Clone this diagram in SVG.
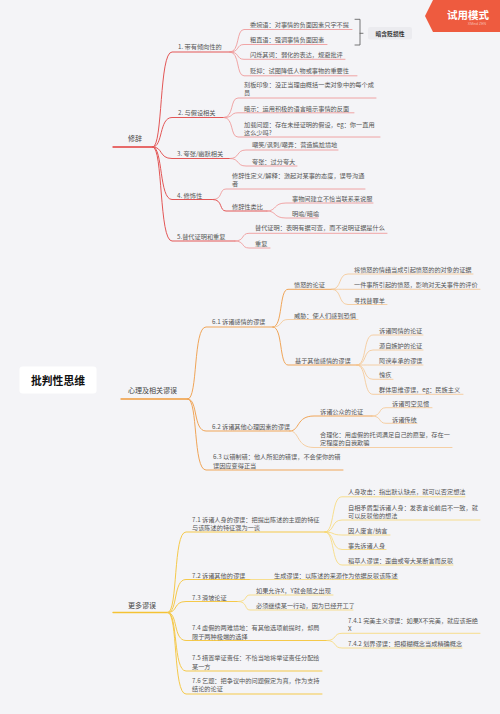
<svg xmlns="http://www.w3.org/2000/svg" width="500" height="714" viewBox="0 0 500 714">
<style>
.t{font-family:"Noto Sans CJK SC","Noto Sans",sans-serif;font-size:6.2px;fill:#555;dominant-baseline:central}
.m{font-size:7px;fill:#444}
.c{font-family:"Noto Sans CJK SC","Noto Sans",sans-serif;font-size:10.8px;font-weight:bold;fill:#111;text-anchor:middle;dominant-baseline:central}
path,line{fill:none;stroke-linecap:round}
.r0{stroke:#e23d3d;stroke-width:1.4}
.r1{stroke:#e35656;stroke-width:1}
.r2{stroke:#ef9090;stroke-width:0.8}
.o0{stroke:#ef9a3c;stroke-width:1.4}
.o1{stroke:#f0a558;stroke-width:1}
.o2{stroke:#f5c58f;stroke-width:0.8}
.y0{stroke:#f4c234;stroke-width:1.4}
.y1{stroke:#f5c94a;stroke-width:1}
.y2{stroke:#f7d874;stroke-width:0.8}
</style>
<rect x="0" y="0" width="500" height="714" fill="#f4f4f7"/>

<g id="connectors">
  <!-- main branches -->
  <path d="M59.5,367 C59.5,205 84,146.2 113,146.2 L113,147.8 C87,147.8 64.5,210 64.5,367 Z" fill="#e23d3d" stroke="none"/>
  <path d="M59.5,394 C59.5,560 86,611.8 113,611.8 L113,613.2 C83,613.2 64.5,560 64.5,394 Z" fill="#f4c234" stroke="none"/>
  <path d="M96,389.5 C105,390.5 108,398.3 122,398.3 L122,399.7 C106,399.7 102,395 96,394 Z" fill="#ef9a3c" stroke="none"/>
  <line class="r0" x1="113" y1="147" x2="153" y2="147"/>
  <line class="o0" x1="121" y1="399" x2="188" y2="399"/>
  <line class="y0" x1="113" y1="612.5" x2="168" y2="612.5"/>

  <!-- 修辞 -->
  <path class="r1" d="M153,147 C163,147 159,52 172,52 H230"/>
  <path class="r1" d="M153,147 C163,147 159,117.5 172,117.5 H224"/>
  <path class="r1" d="M153,147 C163,147 159,158.5 172,158.5 H230"/>
  <path class="r1" d="M153,147 C163,147 159,199.5 172,199.5 H213"/>
  <path class="r1" d="M153,147 C163,147 159,241 172,241 H235"/>
  <path class="r2" d="M230,52 C240,52 236,29.5 244,29.5 H352"/>
  <path class="r2" d="M230,52 C240,52 236,44.5 244,44.5 H327"/>
  <path class="r2" d="M230,52 C240,52 236,59.3 244,59.3 H345"/>
  <path class="r2" d="M230,52 C240,52 236,75.8 244,75.8 H357"/>
  <path class="r2" d="M224,117.5 C234,117.5 230,98 238,98 H376"/>
  <path class="r2" d="M224,117.5 C234,117.5 230,112.8 238,112.8 H354"/>
  <path class="r2" d="M224,117.5 C234,117.5 230,137 238,137 H380"/>
  <path class="r2" d="M230,158.5 C240,158.5 236,150 246,150 H338"/>
  <path class="r2" d="M230,158.5 C240,158.5 236,166 246,166 H297"/>
  <path class="r2" d="M213,199.5 C223,199.5 219,189 226,189 H365"/>
  <path class="r1" d="M213,199.5 C223,199.5 219,211 226,211 H267"/>
  <path class="r2" d="M267,211 C277,211 273,203 286,203 H373"/>
  <path class="r2" d="M267,211 C277,211 273,218 286,218 H318"/>
  <path class="r2" d="M235,241 C245,241 241,233.3 249,233.3 H387"/>
  <path class="r2" d="M235,241 C245,241 241,248 249,248 H270"/>

  <!-- 心理及相关谬误 -->
  <path class="o1" d="M188,399 C198,399 193,327 206,327 H273"/>
  <path class="o1" d="M188,399 C198,399 193,431 206,431 H290"/>
  <path class="o1" d="M188,399 C198,399 193,470 206,470 H343"/>
  <path class="o1" d="M273,327 C283,327 279,289.3 288,289.3 H332"/>
  <path class="o2" d="M273,327 C283,327 279,319.5 288,319.5 H358"/>
  <path class="o1" d="M273,327 C283,327 279,365 288,365 H357"/>
  <path class="o2" d="M332,289.3 C342,289.3 338,274 348,274 H473"/>
  <path class="o2" d="M332,289.3 C342,289.3 338,289.3 348,289.3 H480"/>
  <path class="o2" d="M332,289.3 C342,289.3 338,304.5 348,304.5 H387"/>
  <path class="o2" d="M357,365 C367,365 363,335 373,335 H423"/>
  <path class="o2" d="M357,365 C367,365 363,350 373,350 H423"/>
  <path class="o2" d="M357,365 C367,365 363,365 373,365 H423"/>
  <path class="o2" d="M357,365 C367,365 363,379.3 373,379.3 H393"/>
  <path class="o2" d="M357,365 C367,365 363,394.3 373,394.3 H463"/>
  <path class="o1" d="M290,431 C300,431 296,416 314,416 H372"/>
  <path class="o2" d="M290,431 C300,431 296,447.5 314,447.5 H452"/>
  <path class="o2" d="M372,416 C382,416 378,407.7 386,407.7 H432"/>
  <path class="o2" d="M372,416 C382,416 378,423.3 386,423.3 H417"/>

  <!-- 更多谬误 -->
  <path class="y1" d="M168,612.5 C178,612.5 173,532 186,532 H325"/>
  <path class="y1" d="M168,612.5 C178,612.5 173,579.5 186,579.5 H250"/>
  <path class="y1" d="M168,612.5 C178,612.5 173,601.5 186,601.5 H238"/>
  <path class="y1" d="M168,612.5 C178,612.5 173,640.5 186,640.5 H327"/>
  <path class="y1" d="M168,612.5 C178,612.5 173,671 186,671 H322"/>
  <path class="y1" d="M168,612.5 C178,612.5 173,694 186,694 H322"/>
  <path class="y2" d="M325,532 C335,532 331,496.8 342,496.8 H465"/>
  <path class="y2" d="M325,532 C335,532 331,520 342,520 H480"/>
  <path class="y2" d="M325,532 C335,532 331,535 342,535 H390"/>
  <path class="y2" d="M325,532 C335,532 331,549.5 342,549.5 H386"/>
  <path class="y2" d="M325,532 C335,532 331,565 342,565 H453"/>
  <path class="y2" d="M250,579.5 H398"/>
  <path class="y2" d="M238,601.5 C248,601.5 244,595 250,595 H333"/>
  <path class="y2" d="M238,601.5 C248,601.5 244,610 250,610 H353"/>
  <path class="y2" d="M327,640.5 C337,640.5 333,633.3 342,633.3 H480"/>
  <path class="y2" d="M327,640.5 C337,640.5 333,648 342,648 H462"/>

  <!-- bracket -->
  <path d="M355,19.3 H360 V45 H355 M360,33.3 H363" stroke="#555" stroke-width="0.8"/>
</g>

<g id="badge">
  <polygon points="433,0 500,0 500,32 433,32 425,16" fill="#ee5b3f"/>
  <text x="468" y="14" font-family="Noto Sans CJK SC, sans-serif" font-size="10.5" font-weight="bold" fill="#fff" text-anchor="middle" dominant-baseline="central">试用模式</text>
  <text x="477" y="23.5" font-family="Liberation Sans, sans-serif" font-size="3.6" fill="#f9bcae" text-anchor="middle" dominant-baseline="central">XMind ZEN</text>
</g>

<g id="root">
  <rect x="19.5" y="366.5" width="77" height="27" rx="3" fill="#ffffff"/>
  <text class="c" x="58" y="380">批判性思维</text>
</g>

<g id="n-xiuci"><text class="t m" x="128" y="138">修辞</text></g>
<g id="n-xinli"><text class="t m" x="128" y="390">心理及相关谬误</text></g>
<g id="n-gengduo"><text class="t m" x="128" y="605">更多谬误</text></g>

<g id="n1"><text class="t" x="178" y="46.5">1. 带有倾向性的</text></g>
<g id="n1a"><text class="t" x="250" y="24.3">委婉语：对事情的负面因素只字不提</text></g>
<g id="n1b"><text class="t" x="250" y="39.3">粗直语：强调事情负面因素</text></g>
<g id="n1c"><text class="t" x="250" y="54">闪烁其词：弱化的表达，规避批评</text></g>
<g id="n1d"><text class="t" x="250" y="70.7">贬抑：试图降低人物或事物的重要性</text></g>
<g id="n1-summary">
  <rect x="368" y="27" width="44" height="12.6" rx="2" fill="#ebebef"/>
  <text class="t" x="390" y="33.3" text-anchor="middle" style="font-size:5.8px;font-weight:bold;fill:#333">暗含贬损性</text>
</g>

<g id="n2"><text class="t" x="178" y="112">2. 与假设相关</text></g>
<g id="n2a"><text class="t" x="244" y="84.3">刻板印象：没正当理由概括一类对象中的每个成<tspan x="244" y="91.9">员</tspan></text></g>
<g id="n2b"><text class="t" x="244" y="108.3">暗示：运用积极的语言暗示事情的反面</text></g>
<g id="n2c"><text class="t" x="244" y="124">加载问题：存在未经证明的假设，eg：你一直用<tspan x="244" y="131.6">这么少吗?</tspan></text></g>

<g id="n3"><text class="t" x="177" y="153.3">3. 夸张/幽默相关</text></g>
<g id="n3a"><text class="t" x="252" y="144.7">嘲笑/讽刺/嘲弄：营造尴尬境地</text></g>
<g id="n3b"><text class="t" x="252" y="161.7">夸张：过分夸大</text></g>

<g id="n4"><text class="t" x="177" y="195">4. 修饰性</text></g>
<g id="n4a"><text class="t" x="232" y="175">修辞性定义/解释：激起对某事的态度，误导沟通<tspan x="232" y="183.3">者</tspan></text></g>
<g id="n4b"><text class="t" x="232" y="206.7">修辞性类比</text></g>
<g id="n4b1"><text class="t" x="292" y="198.3">事物间建立不恰当联系来说服</text></g>
<g id="n4b2"><text class="t" x="292" y="213.3">明喻/暗喻</text></g>

<g id="n5"><text class="t" x="177" y="236">5.替代证明和重复</text></g>
<g id="n5a"><text class="t" x="255" y="227.7">替代证明：表明有据可查，而不说明证据是什么</text></g>
<g id="n5b"><text class="t" x="255" y="243.3">重复</text></g>

<g id="n61"><text class="t" x="212" y="321.7">6.1 诉诸感情的谬误</text></g>
<g id="n61a"><text class="t" x="294" y="284.3">愤怒的论证</text></g>
<g id="n61a1"><text class="t" x="354" y="269.3">将愤怒的情绪当成引起愤怒的的对象的证据</text></g>
<g id="n61a2"><text class="t" x="354" y="284.3">一件事所引起的愤怒，影响对无关事件的评价</text></g>
<g id="n61a3"><text class="t" x="354" y="300">寻找替罪羊</text></g>
<g id="n61b"><text class="t" x="294" y="315">威胁：使人们感到恐惧</text></g>
<g id="n61c"><text class="t" x="295" y="360">基于其他感情的谬误</text></g>
<g id="n61c1"><text class="t" x="379" y="330">诉诸同情的论证</text></g>
<g id="n61c2"><text class="t" x="379" y="345.7">源自嫉妒的论证</text></g>
<g id="n61c3"><text class="t" x="379" y="360">阿谀奉承的谬误</text></g>
<g id="n61c4"><text class="t" x="379" y="374.3">愧疚</text></g>
<g id="n61c5"><text class="t" x="379" y="389.3">群体思维谬误，eg：民族主义</text></g>

<g id="n62"><text class="t" x="212" y="426.7">6.2 诉诸其他心理因素的谬误</text></g>
<g id="n62a"><text class="t" x="320" y="411.7">诉诸公众的论证</text></g>
<g id="n62a1"><text class="t" x="392" y="403.3">诉诸司空见惯</text></g>
<g id="n62a2"><text class="t" x="392" y="419">诉诸传统</text></g>
<g id="n62b"><text class="t" x="320" y="434">合理化：用虚假的托词满足自己的愿望，存在一<tspan x="320" y="442.3">定程度的自我欺骗</tspan></text></g>

<g id="n63"><text class="t" x="213" y="456.7">6.3 以错制错：他人所犯的错误，不会使你的错<tspan x="213" y="465">误因应变得正当</tspan></text></g>

<g id="n71"><text class="t" x="192" y="519">7.1 诉诸人身的谬误：把提出陈述的主题的特征<tspan x="192" y="526.7">与该陈述的特征混为一谈</tspan></text></g>
<g id="n71a"><text class="t" x="348" y="491.7">人身攻击：指出默认缺点，就可以否定想法</text></g>
<g id="n71b"><text class="t" x="348" y="507">自相矛盾型诉诸人身：发表言论前后不一致，就<tspan x="348" y="515">可以反驳他的想法</tspan></text></g>
<g id="n71c"><text class="t" x="348" y="530">因人废言/纳言</text></g>
<g id="n71d"><text class="t" x="348" y="545">事先诉诸人身</text></g>
<g id="n71e"><text class="t" x="348" y="560.7">稻草人谬误：歪曲或夸大某断言而反驳</text></g>

<g id="n72"><text class="t" x="192" y="575">7.2 诉诸其他的谬误</text></g>
<g id="n72a"><text class="t" x="274" y="575">生成谬误：以陈述的来源作为依据反驳该陈述</text></g>

<g id="n73"><text class="t" x="192" y="597.7">7.3 滑坡论证</text></g>
<g id="n73a"><text class="t" x="256" y="590.7">如果允许X，Y就会随之出现</text></g>
<g id="n73b"><text class="t" x="256" y="605.3">必须继续某一行动，因为已经开工了</text></g>

<g id="n74"><text class="t" x="192" y="627.7">7.4 虚假的两难境地：有其他选项前提时，却局<tspan x="192" y="635.7">限于两种极端的选择</tspan></text></g>
<g id="n741"><text class="t" x="348" y="620.3">7.4.1 完美主义谬误：如果X不完美，就应该拒绝<tspan x="348" y="628.3">X</tspan></text></g>
<g id="n742"><text class="t" x="348" y="643.7">7.4.2 划界谬误：把模糊概念当成精确概念</text></g>

<g id="n75"><text class="t" x="192" y="657.7">7.5 措置举证责任：不恰当地将举证责任分配给<tspan x="192" y="665.7">某一方</tspan></text></g>
<g id="n76"><text class="t" x="192" y="680.3">7.6 乞题：把争议中的问题假定为真，作为支持<tspan x="192" y="688.3">结论的论证</tspan></text></g>
</svg>
